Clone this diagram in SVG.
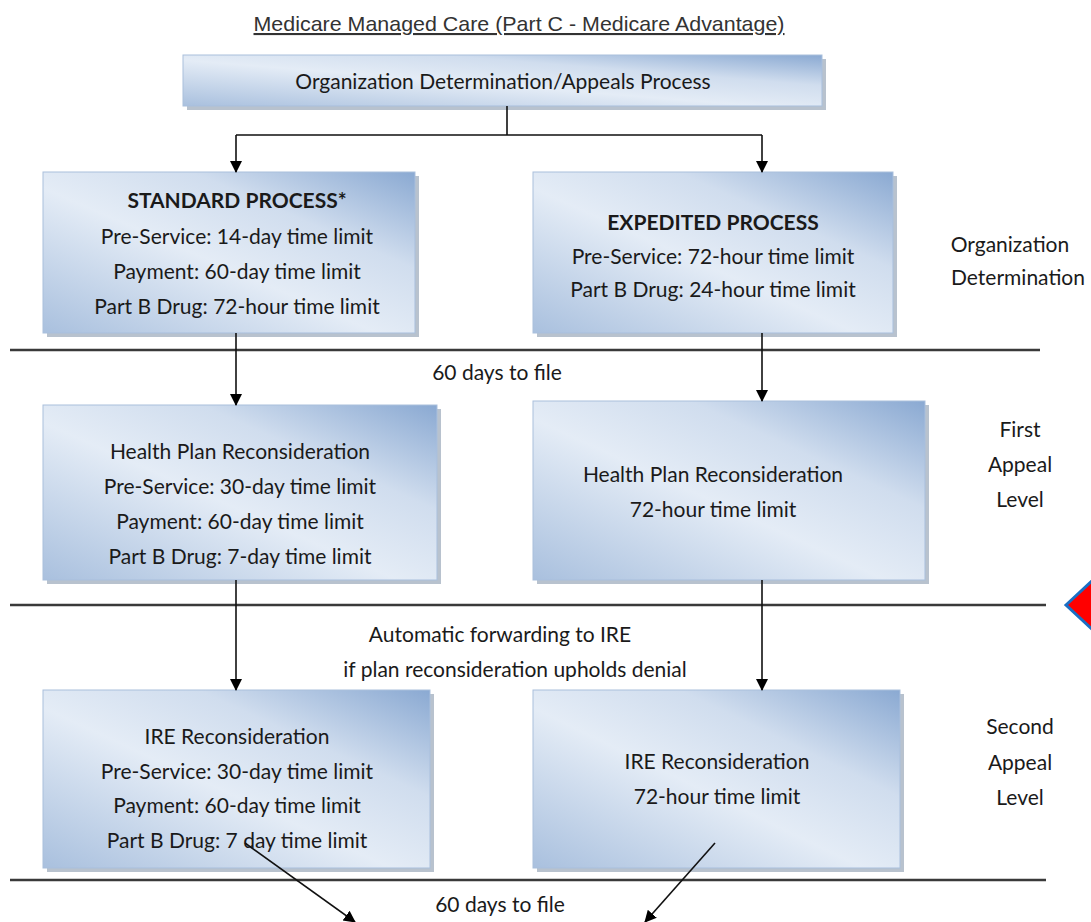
<svg xmlns="http://www.w3.org/2000/svg" width="1091" height="922" viewBox="0 0 1091 922">
<style>
.box{fill:url(#g);stroke:#a9bfdc;stroke-width:1}
.sh{fill:#7d8fa6;opacity:.55}
.t{font-family:Lato,"Open Sans",sans-serif;font-size:21px;fill:#1a1a1a;text-anchor:middle}
.b{font-weight:bold}
.lbl{font-family:Lato,"Open Sans",sans-serif;font-size:21px;fill:#1a1a1a;text-anchor:middle}
.sep{stroke:#3a3a3a;stroke-width:2.5;fill:none}
.con{stroke:#111;stroke-width:1.6;fill:none;marker-end:url(#ah)}
.ln{stroke:#111;stroke-width:1.6;fill:none}
</style>
<defs>
<linearGradient id="g" x1="0" y1="1" x2="1" y2="0">
<stop offset="0" stop-color="#a9c0de"/>
<stop offset="0.45" stop-color="#e4ecf6"/>
<stop offset="0.7" stop-color="#d0ddee"/>
<stop offset="1" stop-color="#8aa9d2"/>
</linearGradient>
<marker id="ah" markerWidth="12" markerHeight="14" refX="11" refY="6" orient="auto" markerUnits="userSpaceOnUse">
<path d="M0,0 L12,6 L0,12 Z" fill="#000"/>
</marker>
</defs>
<rect width="1091" height="922" fill="#fff"/>

<g id="title">
<text x="519" y="31" font-family="'Liberation Sans',Arial,sans-serif" font-size="21" fill="#333" text-anchor="middle" text-decoration="underline" textLength="531" lengthAdjust="spacingAndGlyphs">Medicare Managed Care (Part C - Medicare Advantage)</text>
</g>

<g id="separators">
<line class="sep" x1="10" y1="350" x2="1040" y2="350"/>
<line class="sep" x1="10" y1="605" x2="1046" y2="605"/>
<line class="sep" x1="10" y1="880" x2="1046" y2="880"/>
</g>

<g id="top">
<rect class="sh" x="187" y="59" width="639" height="51"/>
<rect class="box" x="183" y="55" width="639" height="51"/>
<text class="t" x="503" y="89">Organization Determination/Appeals Process</text>
</g>

<g id="standard">
<rect class="sh" x="47" y="176" width="372" height="161"/>
<rect class="box" x="43" y="172" width="372" height="161"/>
<text class="t b" x="237" y="208">STANDARD PROCESS*</text>
<text class="t" x="237" y="244">Pre-Service: 14-day time limit</text>
<text class="t" x="237" y="279">Payment: 60-day time limit</text>
<text class="t" x="237" y="314">Part B Drug: 72-hour time limit</text>
</g>

<g id="expedited">
<rect class="sh" x="537" y="176" width="360" height="161"/>
<rect class="box" x="533" y="172" width="360" height="161"/>
<text class="t b" x="713" y="230">EXPEDITED PROCESS</text>
<text class="t" x="713" y="264">Pre-Service: 72-hour time limit</text>
<text class="t" x="713" y="297">Part B Drug: 24-hour time limit</text>
</g>

<g id="label-od">
<text class="lbl" x="1010" y="252">Organization</text>
<text class="lbl" x="1018" y="285">Determination</text>
</g>

<g id="hpr-std">
<rect class="sh" x="47" y="409" width="394" height="175"/>
<rect class="box" x="43" y="405" width="394" height="175"/>
<text class="t" x="240" y="459">Health Plan Reconsideration</text>
<text class="t" x="240" y="494">Pre-Service: 30-day time limit</text>
<text class="t" x="240" y="529">Payment: 60-day time limit</text>
<text class="t" x="240" y="564">Part B Drug: 7-day time limit</text>
</g>

<g id="hpr-exp">
<rect class="sh" x="537" y="405" width="392" height="179"/>
<rect class="box" x="533" y="401" width="392" height="179"/>
<text class="t" x="713" y="482">Health Plan Reconsideration</text>
<text class="t" x="713" y="517">72-hour time limit</text>
</g>

<g id="label-first">
<text class="lbl" x="1020" y="437">First</text>
<text class="lbl" x="1020" y="472">Appeal</text>
<text class="lbl" x="1020" y="507">Level</text>
</g>

<g id="ire-std">
<rect class="sh" x="47" y="694" width="387" height="178"/>
<rect class="box" x="43" y="690" width="387" height="178"/>
<text class="t" x="237" y="744">IRE Reconsideration</text>
<text class="t" x="237" y="779">Pre-Service: 30-day time limit</text>
<text class="t" x="237" y="813">Payment: 60-day time limit</text>
<text class="t" x="237" y="848">Part B Drug: 7 day time limit</text>
</g>

<g id="ire-exp">
<rect class="sh" x="537" y="694" width="367" height="178"/>
<rect class="box" x="533" y="690" width="367" height="178"/>
<text class="t" x="717" y="769">IRE Reconsideration</text>
<text class="t" x="717" y="804">72-hour time limit</text>
</g>

<g id="label-second">
<text class="lbl" x="1020" y="734">Second</text>
<text class="lbl" x="1020" y="770">Appeal</text>
<text class="lbl" x="1020" y="805">Level</text>
</g>

<g id="notes">
<text class="t" x="497" y="380">60 days to file</text>
<text class="t" x="500" y="642">Automatic forwarding to IRE</text>
<text class="t" x="515" y="677">if plan reconsideration upholds denial</text>
<text class="t" x="500" y="912">60 days to file</text>
</g>

<g id="connectors">
<path class="ln" d="M507,106 V135 M236,135 H762"/>
<path class="con" d="M236,135 V172"/>
<path class="con" d="M762,135 V172"/>
<path class="con" d="M236,333 V405"/>
<path class="con" d="M762,333 V401"/>
<path class="con" d="M236,580 V690"/>
<path class="con" d="M762,580 V690"/>
<path class="con" d="M245,843 L355,922"/>
<path class="con" d="M715,843 L645,922"/>
</g>

<g id="pointer">
<path d="M1066,605 L1095,578 L1095,632 Z" fill="#ff0000" stroke="#1a6fc4" stroke-width="3"/>
</g>
</svg>
